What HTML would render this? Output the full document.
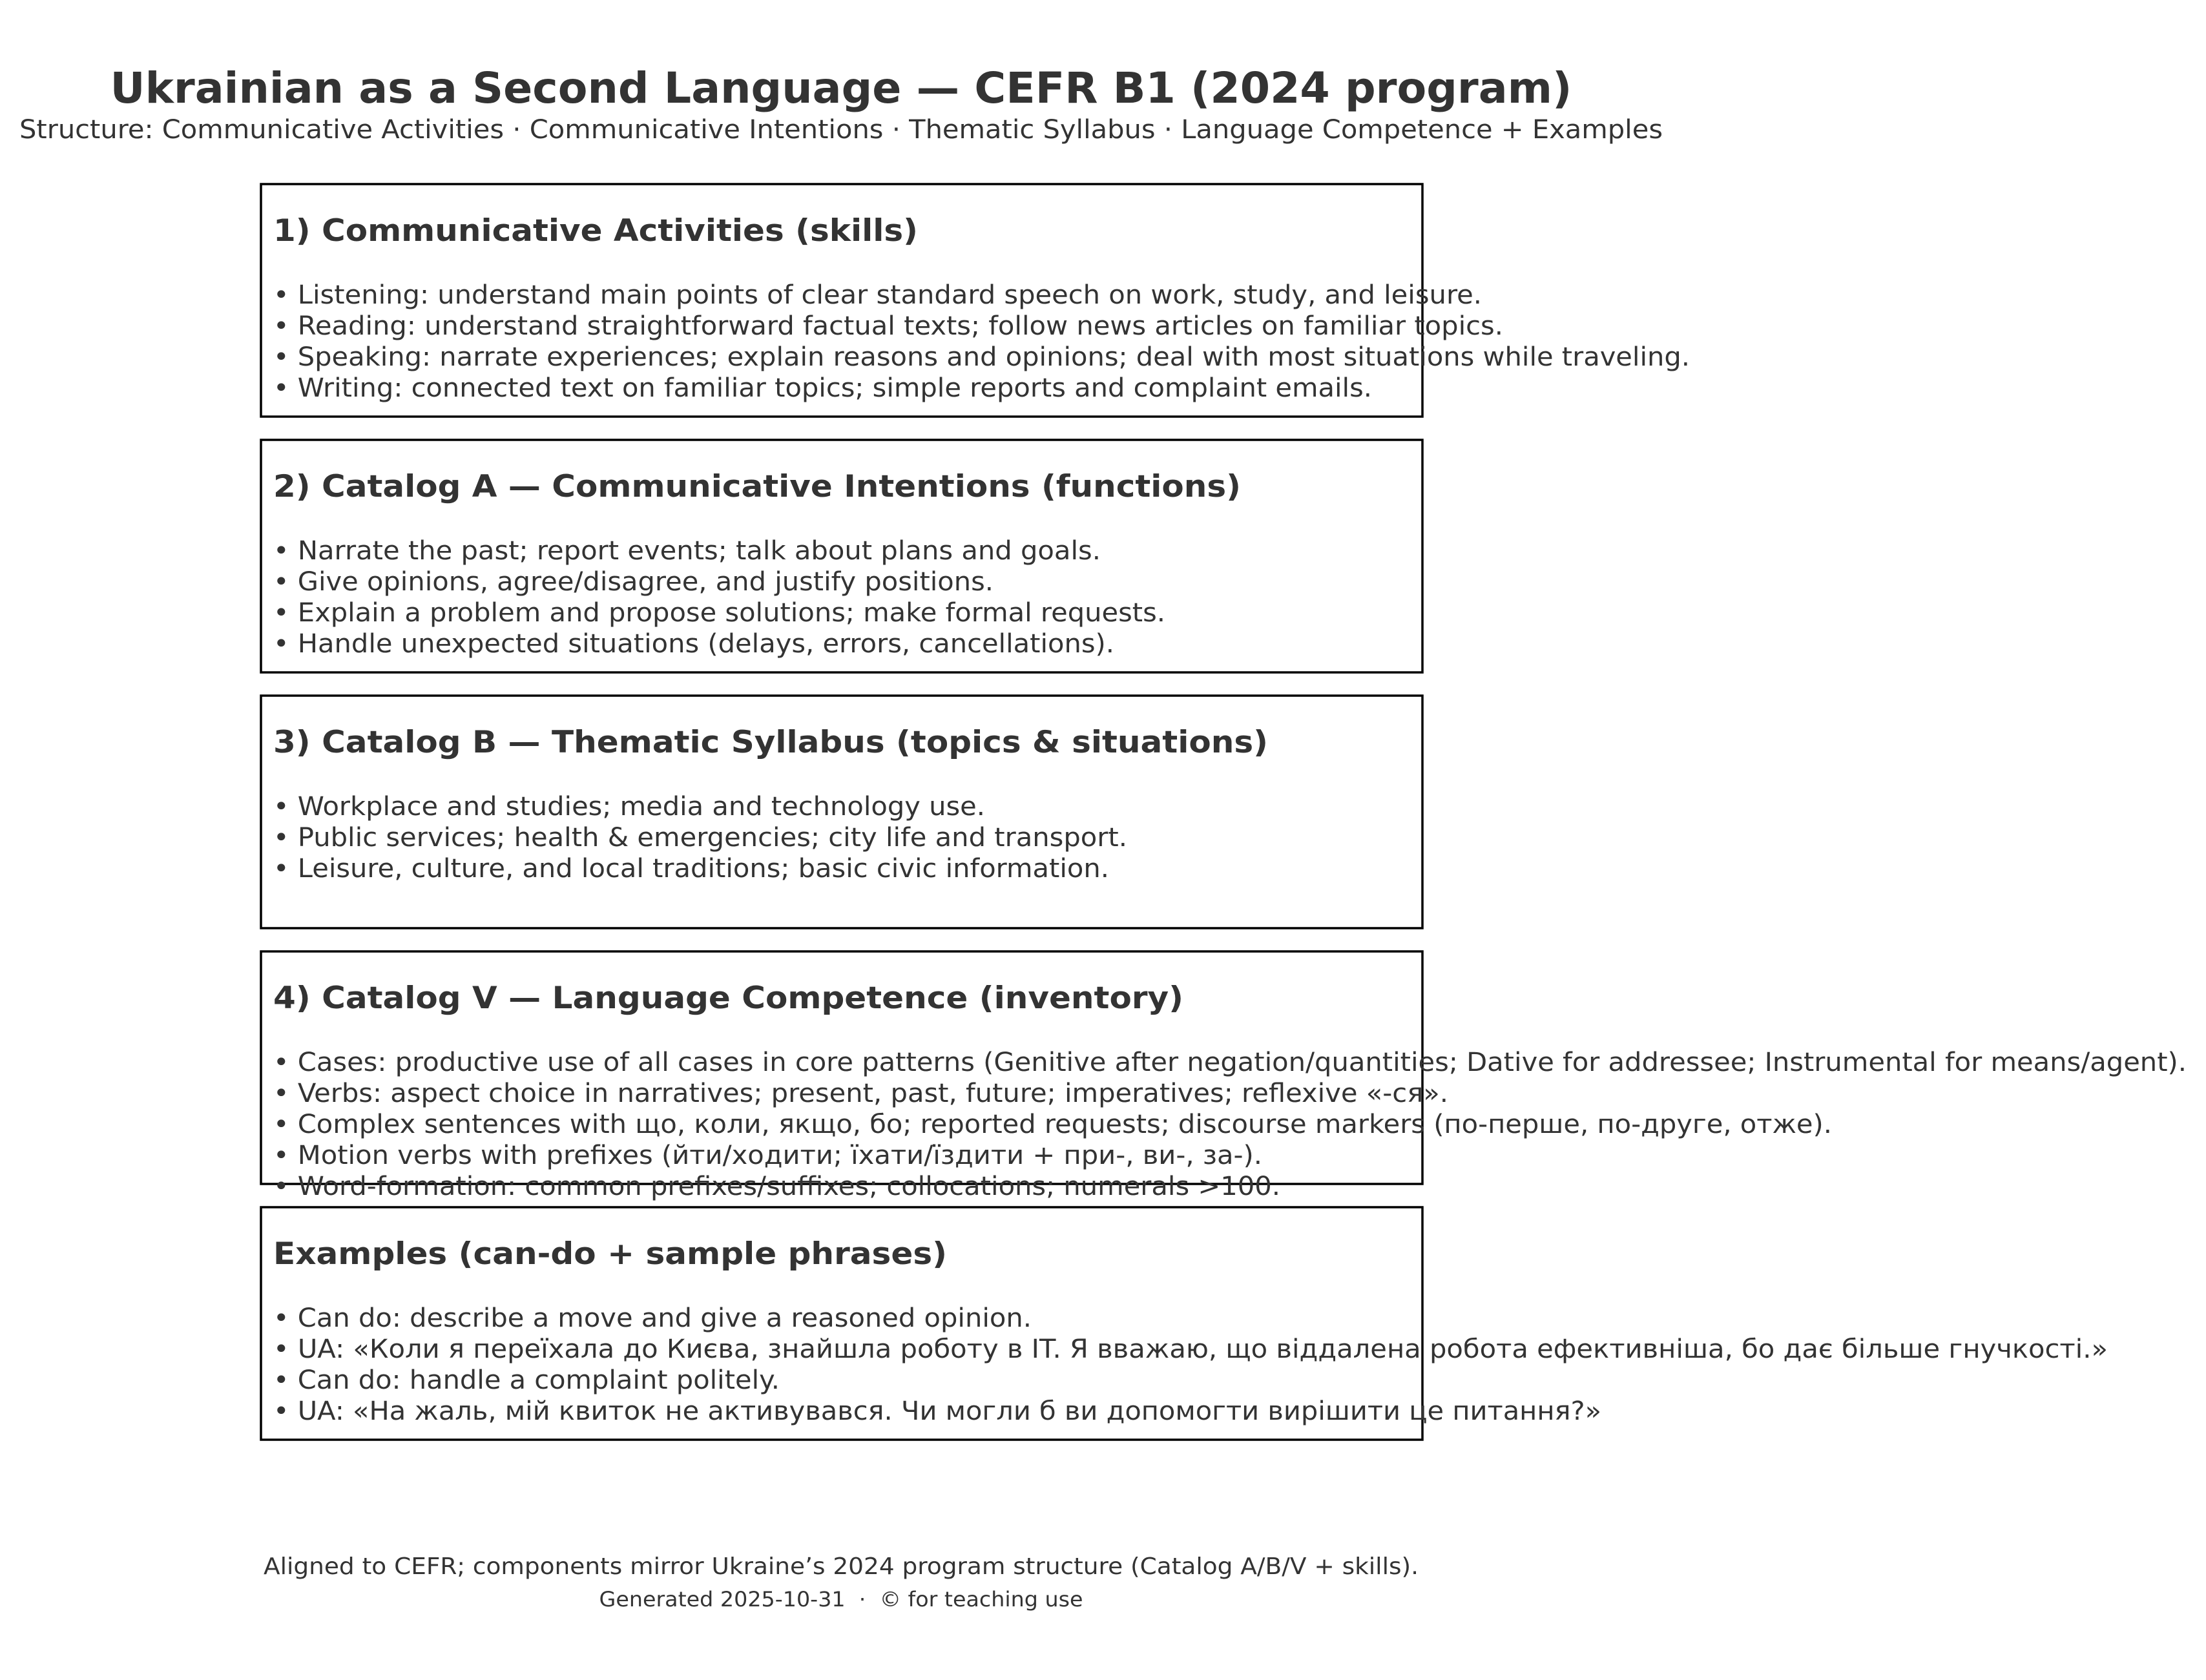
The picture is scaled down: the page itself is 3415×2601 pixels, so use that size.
<!DOCTYPE html>
<html><head><meta charset="utf-8"><style>
html,body{margin:0;padding:0;background:#fff;}
svg{display:block;}
text{font-family:"DejaVu Sans","Liberation Sans",sans-serif;fill:#333;}
.h{font-weight:bold;font-size:47px;}
.b{font-size:40px;}
</style></head><body>
<svg width="3415" height="2601" viewBox="0 0 3415 2601">
<text x="1302" y="159" text-anchor="middle" font-weight="bold" font-size="66" textLength="2263" lengthAdjust="spacingAndGlyphs">Ukrainian as a Second Language — CEFR B1 (2024 program)</text>
<text x="1302" y="214" text-anchor="middle" font-size="40" textLength="2544" lengthAdjust="spacingAndGlyphs">Structure: Communicative Activities · Communicative Intentions · Thematic Syllabus · Language Competence + Examples</text>

<g>
<rect x="404" y="285" width="1798" height="360" fill="none" stroke="#000" stroke-width="3.5"/>
<text class="h" x="423" y="373" textLength="998" lengthAdjust="spacingAndGlyphs">1) Communicative Activities (skills)</text>
<text class="b" x="423" y="470" textLength="1871" lengthAdjust="spacingAndGlyphs">• Listening: understand main points of clear standard speech on work, study, and leisure.</text>
<text class="b" x="423" y="518" textLength="1904" lengthAdjust="spacingAndGlyphs">• Reading: understand straightforward factual texts; follow news articles on familiar topics.</text>
<text class="b" x="423" y="566" textLength="2193" lengthAdjust="spacingAndGlyphs">• Speaking: narrate experiences; explain reasons and opinions; deal with most situations while traveling.</text>
<text class="b" x="423" y="614" textLength="1701" lengthAdjust="spacingAndGlyphs">• Writing: connected text on familiar topics; simple reports and complaint emails.</text>
</g>

<g>
<rect x="404" y="681" width="1798" height="360" fill="none" stroke="#000" stroke-width="3.5"/>
<text class="h" x="423" y="769" textLength="1498" lengthAdjust="spacingAndGlyphs">2) Catalog A — Communicative Intentions (functions)</text>
<text class="b" x="423" y="866" textLength="1281" lengthAdjust="spacingAndGlyphs">• Narrate the past; report events; talk about plans and goals.</text>
<text class="b" x="423" y="914" textLength="1115" lengthAdjust="spacingAndGlyphs">• Give opinions, agree/disagree, and justify positions.</text>
<text class="b" x="423" y="962" textLength="1381" lengthAdjust="spacingAndGlyphs">• Explain a problem and propose solutions; make formal requests.</text>
<text class="b" x="423" y="1010" textLength="1302" lengthAdjust="spacingAndGlyphs">• Handle unexpected situations (delays, errors, cancellations).</text>
</g>

<g>
<rect x="404" y="1077" width="1798" height="360" fill="none" stroke="#000" stroke-width="3.5"/>
<text class="h" x="423" y="1165" textLength="1540" lengthAdjust="spacingAndGlyphs">3) Catalog B — Thematic Syllabus (topics &amp; situations)</text>
<text class="b" x="423" y="1262" textLength="1102" lengthAdjust="spacingAndGlyphs">• Workplace and studies; media and technology use.</text>
<text class="b" x="423" y="1310" textLength="1322" lengthAdjust="spacingAndGlyphs">• Public services; health &amp; emergencies; city life and transport.</text>
<text class="b" x="423" y="1358" textLength="1294" lengthAdjust="spacingAndGlyphs">• Leisure, culture, and local traditions; basic civic information.</text>
</g>

<g>
<rect x="404" y="1473" width="1798" height="360" fill="none" stroke="#000" stroke-width="3.5"/>
<text class="h" x="423" y="1561" textLength="1409" lengthAdjust="spacingAndGlyphs">4) Catalog V — Language Competence (inventory)</text>
<text class="b" x="423" y="1658" textLength="2962" lengthAdjust="spacingAndGlyphs">• Cases: productive use of all cases in core patterns (Genitive after negation/quantities; Dative for addressee; Instrumental for means/agent).</text>
<text class="b" x="423" y="1706" textLength="1819" lengthAdjust="spacingAndGlyphs">• Verbs: aspect choice in narratives; present, past, future; imperatives; reflexive «-ся».</text>
<text class="b" x="423" y="1754" textLength="2413" lengthAdjust="spacingAndGlyphs">• Complex sentences with що, коли, якщо, бо; reported requests; discourse markers (по-перше, по-друге, отже).</text>
<text class="b" x="423" y="1802" textLength="1531" lengthAdjust="spacingAndGlyphs">• Motion verbs with prefixes (йти/ходити; їхати/їздити + при-, ви-, за-).</text>
<text class="b" x="423" y="1850" textLength="1559" lengthAdjust="spacingAndGlyphs">• Word-formation: common prefixes/suffixes; collocations; numerals &gt;100.</text>
</g>

<g>
<rect x="404" y="1869" width="1798" height="360" fill="none" stroke="#000" stroke-width="3.5"/>
<text class="h" x="423" y="1957" textLength="1043" lengthAdjust="spacingAndGlyphs">Examples (can-do + sample phrases)</text>
<text class="b" x="423" y="2054" textLength="1174" lengthAdjust="spacingAndGlyphs">• Can do: describe a move and give a reasoned opinion.</text>
<text class="b" x="423" y="2102" textLength="2840" lengthAdjust="spacingAndGlyphs">• UA: «Коли я переїхала до Києва, знайшла роботу в IT. Я вважаю, що віддалена робота ефективніша, бо дає більше гнучкості.»</text>
<text class="b" x="423" y="2150" textLength="784" lengthAdjust="spacingAndGlyphs">• Can do: handle a complaint politely.</text>
<text class="b" x="423" y="2198" textLength="2056" lengthAdjust="spacingAndGlyphs">• UA: «На жаль, мій квиток не активувався. Чи могли б ви допомогти вирішити це питання?»</text>
</g>

<text x="1302" y="2437" text-anchor="middle" font-size="36" textLength="1788" lengthAdjust="spacingAndGlyphs">Aligned to CEFR; components mirror Ukraine’s 2024 program structure (Catalog A/B/V + skills).</text>
<text x="1302" y="2487" text-anchor="middle" font-size="32" style="white-space:pre" xml:space="preserve" textLength="749" lengthAdjust="spacingAndGlyphs">Generated 2025-10-31  ·  © for teaching use</text>
</svg>
</body></html>
